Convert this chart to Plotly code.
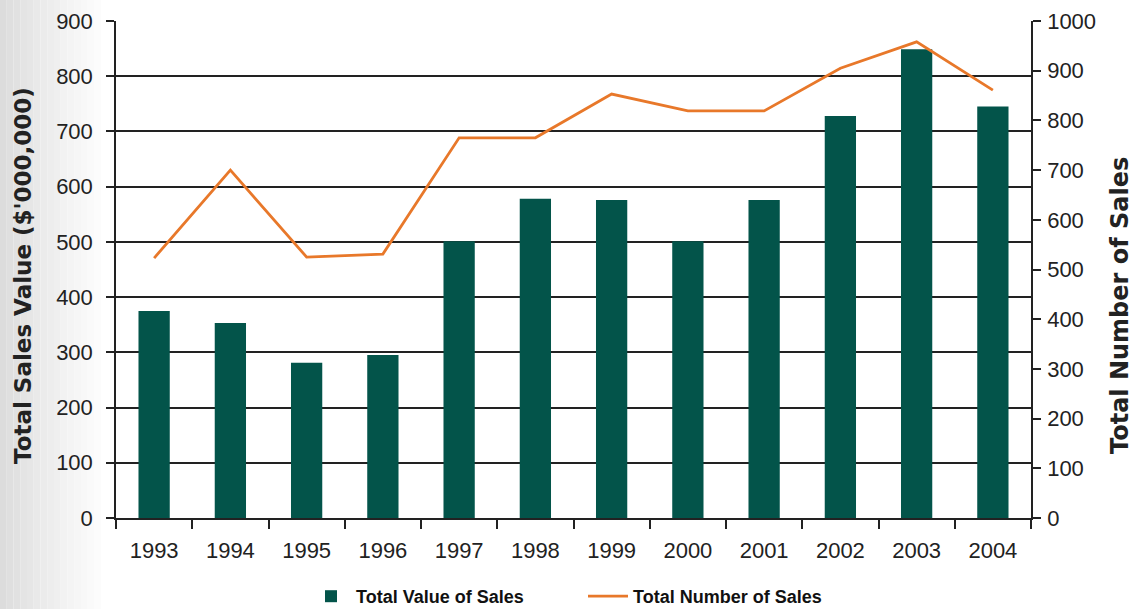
import plotly.graph_objects as go

years = ["1993", "1994", "1995", "1996", "1997", "1998", "1999", "2000", "2001", "2002", "2003", "2004"]
sales_value = [375, 353, 281, 295, 501, 578, 576, 501, 576, 728, 849, 745]
sales_number = [523, 700, 525, 531, 765, 765, 853, 819, 819, 905, 958, 861]

BAR_COLOR = "#03544A"
LINE_COLOR = "#E8782A"
TXT = "#222222"
TICKFONT = dict(size=22, family="Liberation Sans, Arial, sans-serif", color=TXT)

fig = go.Figure()
fig.add_trace(go.Bar(x=years, y=sales_value, name="Total Value of Sales",
                     marker=dict(color=BAR_COLOR, line=dict(width=0)), width=0.41, yaxis="y"))
fig.add_trace(go.Scatter(x=years, y=sales_number, name="Total Number of Sales", mode="lines",
                         line=dict(color=LINE_COLOR, width=2.8), yaxis="y2"))

W = 915.0
H = 497.0

# left gray fade
shapes = []
n = 16
for i in range(n):
    g = int(220 + (255 - 220) * (i / (n - 1)) ** 0.9)
    shapes.append(dict(type="rect", xref="paper", yref="paper", layer="below",
                       x0=(-116 + i * 108 / n) / W, x1=(-116 + (i + 1) * 108 / n) / W,
                       y0=-91 / H, y1=1 + 21 / H, line=dict(width=0),
                       fillcolor=f"rgb({g},{g},{g})"))

TITLEFONT = dict(family="DejaVu Sans, sans-serif", color=TXT)
annotations = [
    dict(text="<b>Total Sales Value ($'000,000)</b>", xref="paper", yref="paper",
         x=(23 - 116) / W, y=(518 - 276) / H, textangle=-90, showarrow=False,
         xanchor="center", yanchor="middle", font=dict(size=23, **TITLEFONT)),
    dict(text="<b>Total Number of Sales</b>", xref="paper", yref="paper",
         x=(1120 - 116) / W, y=(518 - 306) / H, textangle=-90, showarrow=False,
         xanchor="center", yanchor="middle", font=dict(size=24, **TITLEFONT)),
]

fig.update_layout(
    width=1136, height=609,
    margin=dict(l=116, r=105, t=21, b=91, autoexpand=False),
    paper_bgcolor="white", plot_bgcolor="white",
    font=dict(family="Liberation Sans, Arial, sans-serif", color=TXT),
    showlegend=True,
    legend=dict(orientation="h", x=(306 - 116) / W, xanchor="left", y=-(578 - 518) / H, yanchor="top",
                font=dict(size=18, family="Liberation Sans, Arial, sans-serif", color="#111", weight="bold"),
                itemwidth=40, entrywidth=222, tracegroupgap=0, bgcolor="rgba(0,0,0,0)"),
    bargap=0.59,
    shapes=shapes,
    annotations=annotations,
    xaxis=dict(type="category", tickson="boundaries", ticks="outside", ticklen=9,
               tickcolor="#222", tickwidth=1.5, showline=True, linecolor="#222", linewidth=1.5,
               showgrid=False, tickfont=TICKFONT, ticklabelstandoff=12),
    yaxis=dict(range=[0, 900], dtick=100, ticks="outside", ticklen=8, tickcolor="#222", tickwidth=1.5,
               showline=True, linecolor="#222", linewidth=1.5,
               showgrid=True, gridcolor="#222", gridwidth=1.5, zeroline=False,
               tickfont=TICKFONT, ticklabelstandoff=9),
    yaxis2=dict(range=[0, 1000], dtick=100, overlaying="y", side="right", ticks="outside", ticklen=8,
                tickcolor="#222", tickwidth=1.5, showline=True, linecolor="#222", linewidth=1.5,
                showgrid=False, zeroline=False, tickfont=TICKFONT, ticklabelstandoff=2),
)

fig.write_html("out.html")
